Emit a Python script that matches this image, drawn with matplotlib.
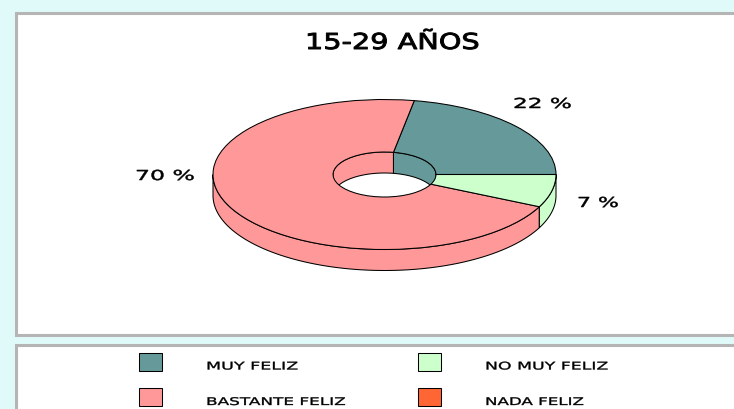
import numpy as np
import matplotlib
matplotlib.use('Agg')
import matplotlib.pyplot as plt
from matplotlib.patches import Rectangle, Polygon
from matplotlib.patheffects import AbstractPathEffect
from matplotlib.transforms import Affine2D

title = '15-29 AÑOS'
categories = ['MUY FELIZ', 'BASTANTE FELIZ', 'NO MUY FELIZ', 'NADA FELIZ']
values = [22, 70, 7, 0]
colors = ['#669999', '#FF9999', '#CCFFCC', '#FF6633']

W, H = 734, 410
BG = '#DFFAF9'
GREY = '#B5B5B5'
FONT = 'DejaVu Sans'
LW = 0.75

fig = plt.figure(figsize=(W / 100, H / 100), dpi=100, facecolor=BG)

# page layer in pixels, y going down
page = fig.add_axes([0, 0, 1, 1])
page.set_xlim(0, W)
page.set_ylim(H, 0)
page.set_axis_off()


class WideText(AbstractPathEffect):
    # the reference font is very wide, so stretch glyphs sideways from the text start
    def __init__(self, sx, stroke):
        super().__init__()
        self.sx = sx
        self.stroke = stroke

    def draw_path(self, renderer, gc, tpath, affine, rgbFace=None):
        gc.set_linewidth(self.stroke)
        gc.set_foreground('black')
        renderer.draw_path(gc, tpath, Affine2D().scale(self.sx, 1) + affine, rgbFace)


def wide_text(x, base, s, size, width, stroke):
    t = page.text(x, base, s, ha='left', va='baseline', fontsize=size,
                  family=FONT, color='black')
    w = t.get_window_extent(fig.canvas.get_renderer()).width
    t.set_path_effects([WideText(width / w, stroke)])
    return t


# the two panels, right side runs off the picture
page.add_patch(Rectangle((15.5, 14), 730, 322, fc='white', ec=GREY, lw=2.2))
page.add_patch(Rectangle((15.5, 345.5), 730, 80, fc='white', ec=GREY, lw=2.2))

wide_text(305, 50, title, 15.8, 175, 0.7)

# legend, two columns two rows
swatch_x = [139, 139, 418, 418]
swatch_y = [354, 389, 354, 389]
text_x = [206, 206, 485, 485]
text_base = [370.5, 406, 370.5, 406]
text_w = [91, 138, 122, 98]
for i, name in enumerate(categories):
    page.add_patch(Rectangle((swatch_x[i], swatch_y[i]), 23, 18, fc=colors[i],
                             ec='black', lw=LW))
    wide_text(text_x[i], text_base[i], name, 7.6, text_w[i], 0.25)

# percent labels
label_x = [513, 135, 577]
label_base = [109, 181, 208]
label_w = [59, 60, 42]
for i in range(3):
    wide_text(label_x[i], label_base[i], '%d %%' % values[i], 9.9, label_w[i], 0.35)

# pie layer: unit circle squashed to an ellipse
cx, cy, rx, ry = 384.5, 175.5, 171.5, 75
depth = 21 / ry
hole = 0.3

ax = fig.add_axes([0, 0, 1, 1])
ax.patch.set_alpha(0)
wedges, _ = ax.pie(values, colors=colors, startangle=0, radius=1,
                   wedgeprops=dict(width=1 - hole, edgecolor='black', linewidth=LW))
ax.set_aspect('auto')
ax.set_xlim(-cx / rx, (W - cx) / rx)
ax.set_ylim((cy - H) / ry, cy / ry)
ax.set_axis_off()
for w in wedges:
    w.set_zorder(3)


def wall(a1, a2, r, color):
    # side of the disc between two angles, seen from above
    t = np.radians(np.linspace(a1, a2, 80))
    x = r * np.cos(t)
    y = r * np.sin(t)
    pts = np.concatenate([np.column_stack([x, y]),
                          np.column_stack([x[::-1], y[::-1] - depth])])
    ax.add_patch(Polygon(pts, closed=True, fc=color, ec='black', lw=LW, zorder=1))


edges = np.concatenate([[0], np.cumsum(values) / np.sum(values) * 360])
for i in range(len(values)):
    a1, a2 = edges[i], edges[i + 1]
    if a2 <= a1:
        continue
    # outer rim shows on the front half
    if max(a1, 180) < a2:
        wall(max(a1, 180), a2, 1, colors[i])
    # inside of the hole shows on the back half
    if a1 < min(a2, 180):
        wall(a1, min(a2, 180), hole, colors[i])

fig.savefig('out.png', dpi=100, facecolor=BG)
